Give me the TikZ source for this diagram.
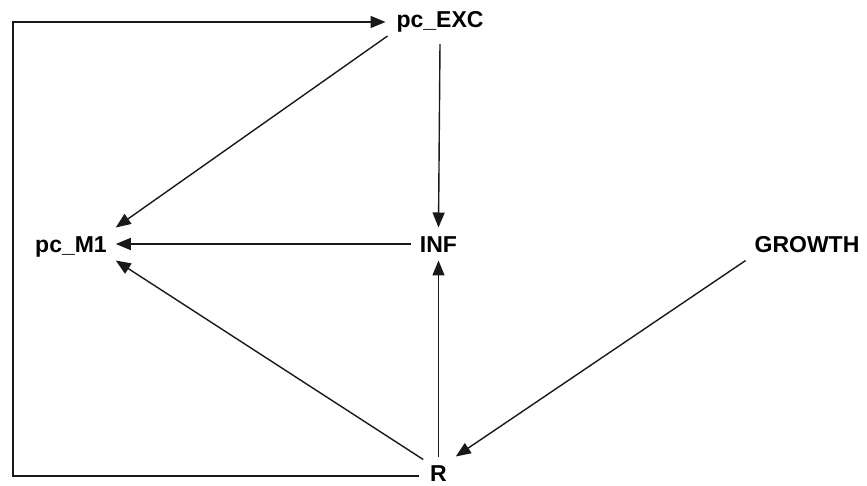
\documentclass[tikz,border=0pt]{standalone}
\usepackage{fontspec}
\setmainfont{Liberation Sans}
\usetikzlibrary{arrows.meta,calc}
\begin{document}
\begin{tikzpicture}[x=1pt,y=-1pt,
  lbl/.style={inner xsep=9pt, inner ysep=8pt, outer sep=0pt, text height=17pt, text depth=0pt,
    font=\fontsize{23}{27}\selectfont\bfseries},
  arr/.style={draw=black!90, line width=1.4pt, -{Triangle[length=15pt,width=12pt]}}]
\useasboundingbox (0,0) rectangle (867,486);
\node[lbl] (pcexc) at (440,19.5) {pc\_EXC};
\node[lbl] (pcm1) at (71,244) {pc\_M1};
\node[lbl] (inf) at (438.5,244) {INF};
\node[lbl] (growth) at (807,244) {GROWTH};
\node[lbl] (r) at (438.5,473) {R};
\coordinate (corner) at (13,476);
\draw[arr] (pcexc.south west) -- (pcm1.north east);
\draw[arr] ($(pcexc.south)+(0,8)$) -- (inf.north);
\draw[arr] (inf.west) -- (pcm1.east);
\draw[arr] ($(r.north west)+(2,3)$) -- (pcm1.south east);
\draw[arr] (r.north) -- (inf.south);
\draw[arr] (growth.south west) -- (r.north east);
\draw[arr] ($(r.west)+(-2,3)$) -- (corner) |- ($(pcexc.west)+(-2,2.5)$);
\end{tikzpicture}
\end{document}
